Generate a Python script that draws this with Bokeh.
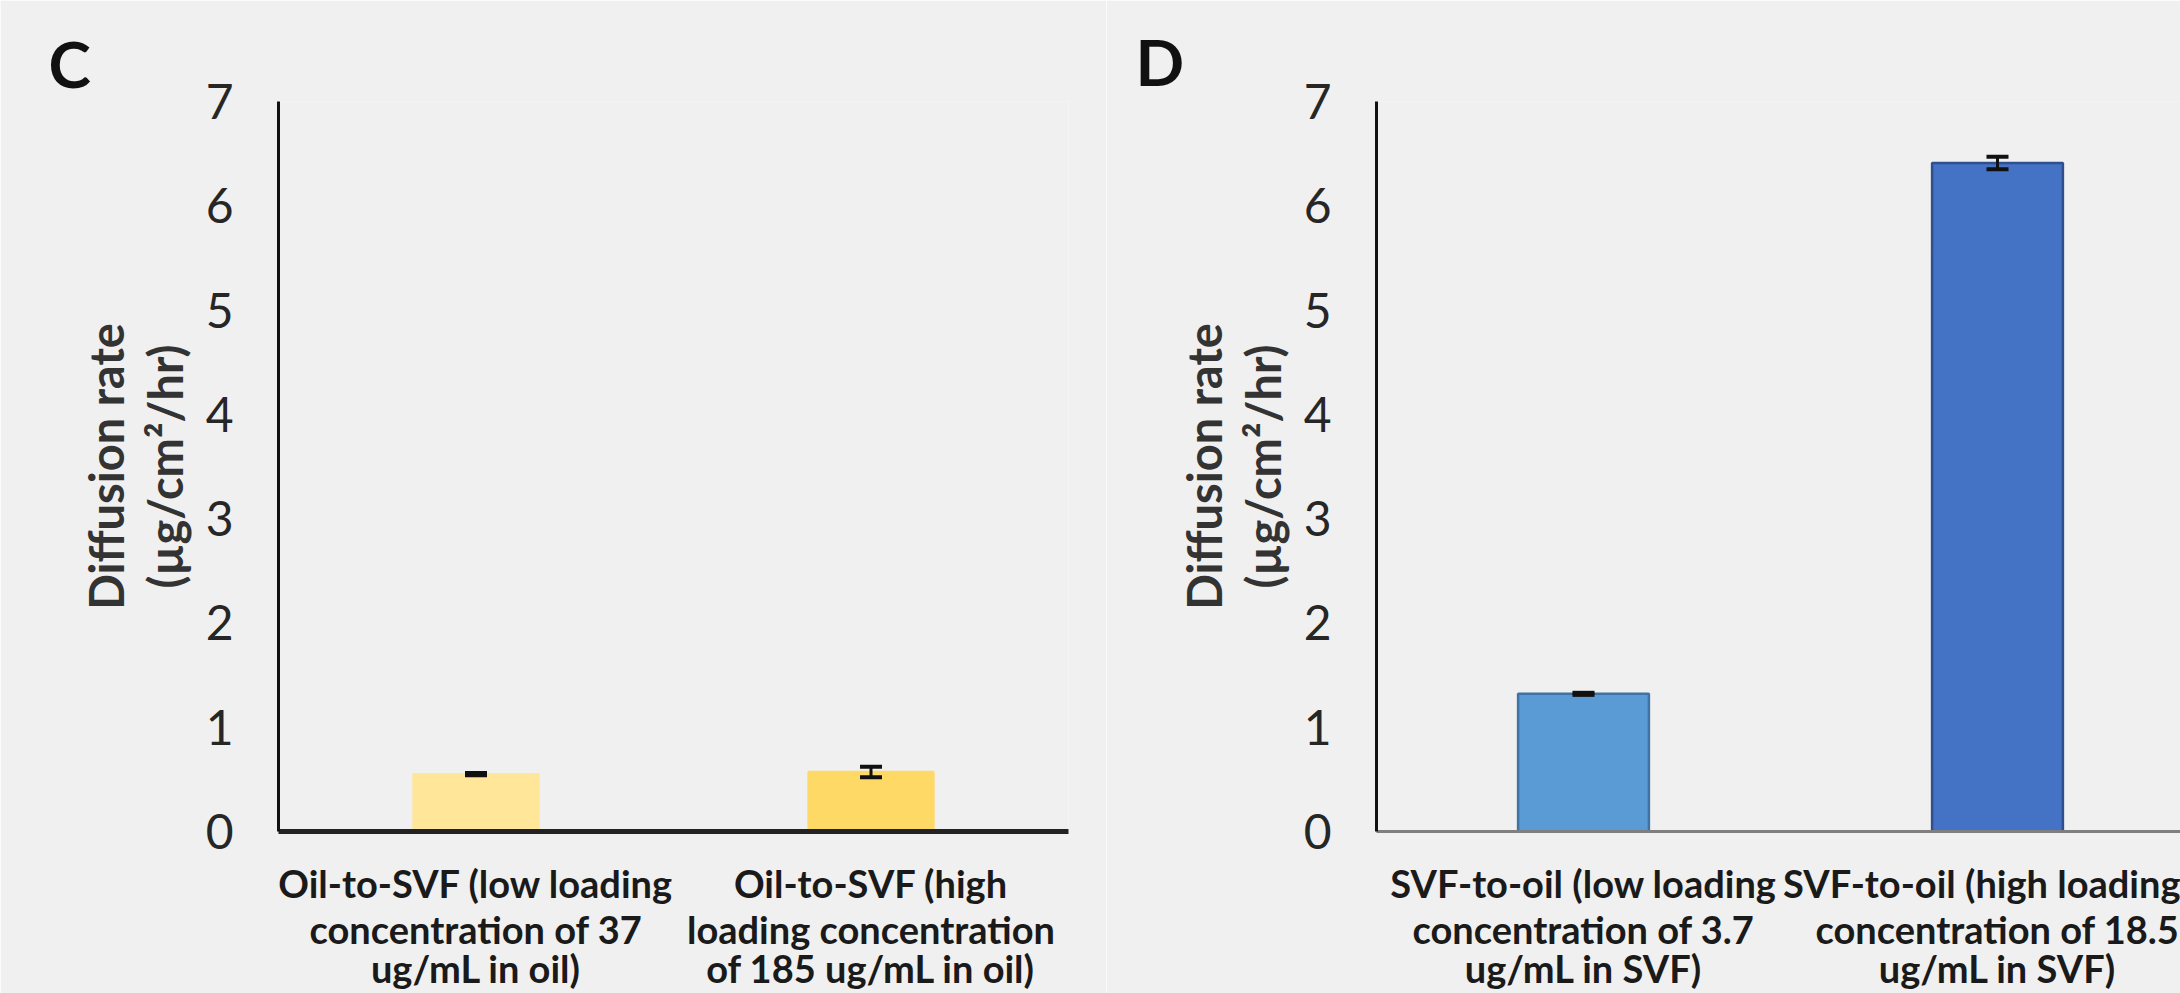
from bokeh.plotting import figure
from bokeh.models import Range1d, ColumnDataSource, Whisker, TeeHead, LinearAxis, FixedTicker
from bokeh.layouts import row
from bokeh.embed import file_html
from bokeh.resources import INLINE

# ---------------- data ----------------
c_labels = [
    "Oil-to-SVF (low loading\nconcentration of 37\nug/mL in oil)",
    "Oil-to-SVF (high\nloading concentration\nof 185 ug/mL in oil)",
]
c_values = [0.55, 0.57]
c_errors = [0.01, 0.05]

d_labels = [
    "SVF-to-oil (low loading\nconcentration of 3.7\nug/mL in SVF)",
    "SVF-to-oil (high loading\nconcentration of 18.5\nug/mL in SVF)",
]
d_values = [1.32, 6.41]
d_errors = [0.01, 0.06]

y_ticks = [0, 1, 2, 3, 4, 5, 6, 7]
y_title_line1 = "Diffusion rate"
y_title_line2 = "(\u00b5g/cm\u00b2/hr)"

# ---------------- styling ----------------
BG = "#f0f0f0"
TOTAL_W = 2180
H = 993
FRAME_TOP = 101
FRAME_BOTTOM = 831
CAT_STANDOFFS = [28, -3, -10]


def make_panel(letter, labels, values, errors, fills, lines, width,
               border_left, border_right, x_end, xaxis_color, xaxis_width,
               letter_offset, letter_standoff):
    xs = [i + 0.5 for i in range(len(labels))]
    p = figure(width=width, height=H, output_backend="svg", toolbar_location=None,
               x_range=Range1d(0, x_end), y_range=Range1d(0, y_ticks[-1]),
               min_border_left=border_left, min_border_right=border_right,
               min_border_top=FRAME_TOP, min_border_bottom=H - FRAME_BOTTOM)
    p.background_fill_color = BG
    p.border_fill_color = BG
    p.outline_line_color = None
    p.grid.visible = False

    # panel letter as title
    p.title.text = letter
    p.title.align = "left"
    p.title.offset = letter_offset
    p.title.standoff = letter_standoff
    p.title.vertical_align = "bottom"
    p.title.text_font = "Lato"
    p.title.text_font_style = "bold"
    p.title.text_font_size = "64px"
    p.title.text_color = "#111111"

    src = ColumnDataSource(dict(
        x=xs, top=values, fill=fills, line=lines,
        upper=[v + e for v, e in zip(values, errors)],
        lower=[v - e for v, e in zip(values, errors)],
    ))
    p.vbar(x="x", top="top", bottom=0, width=0.316, source=src,
           fill_color="fill", line_color="line", line_width=2.5)

    w = Whisker(base="x", upper="upper", lower="lower", source=src,
                dimension="height", line_color="#111111", line_width=3,
                upper_head=TeeHead(size=22, line_width=4, line_color="#111111"),
                lower_head=TeeHead(size=22, line_width=4, line_color="#111111"),
                level="overlay")
    p.add_layout(w)

    # y axis (ticks + second line of the title)
    ya = p.yaxis[0]
    ya.ticker = y_ticks
    ya.major_tick_out = 0
    ya.major_tick_in = 0
    ya.minor_tick_out = 0
    ya.minor_tick_in = 0
    ya.axis_line_color = "#111111"
    ya.axis_line_width = 3
    ya.major_label_text_font = "Lato"
    ya.major_label_text_font_size = "48px"
    ya.major_label_text_color = "#262626"
    ya.major_label_standoff = 45
    ya.axis_label = y_title_line2
    ya.axis_label_text_font = "Lato"
    ya.axis_label_text_font_style = "bold"
    ya.axis_label_text_font_size = "47px"
    ya.axis_label_text_color = "#333333"
    ya.axis_label_standoff = 10

    # outer axis carrying the first line of the title
    ya2 = LinearAxis(ticker=FixedTicker(ticks=[]), axis_line_color=None,
                     major_tick_out=0, major_tick_in=0, minor_tick_out=0,
                     minor_tick_in=0, major_label_text_font_size="0px",
                     major_label_standoff=0,
                     axis_label=y_title_line1, axis_label_text_font="Lato",
                     axis_label_text_font_style="bold",
                     axis_label_text_font_size="47px",
                     axis_label_text_color="#333333", axis_label_standoff=0)
    p.add_layout(ya2, "left")

    # x axes: one per text line of the category labels
    split = [lab.split("\n") for lab in labels]
    n_lines = max(len(s) for s in split)
    for li in range(n_lines):
        overrides = {x: (s[li] if li < len(s) else "") for x, s in zip(xs, split)}
        if li == 0:
            xa = p.xaxis[0]
            xa.axis_line_color = xaxis_color
            xa.axis_line_width = xaxis_width
        else:
            xa = LinearAxis()
            xa.axis_line_color = None
            p.add_layout(xa, "below")
        xa.ticker = FixedTicker(ticks=xs)
        xa.major_label_overrides = overrides
        xa.major_tick_out = 0
        xa.major_tick_in = 0
        xa.minor_tick_out = 0
        xa.minor_tick_in = 0
        xa.major_label_standoff = CAT_STANDOFFS[li]
        xa.major_label_text_font = "Lato"
        xa.major_label_text_font_style = "bold"
        xa.major_label_text_font_size = "38px"
        xa.major_label_text_color = "#1a1a1a"
    return p


W1 = 1106
p1 = make_panel("C", c_labels, c_values, c_errors,
                ["#FFE699", "#FFD966"], ["#FFE699", "#FFD966"],
                W1, 278, W1 - 1068, 2.0, "#222222", 5, -230, 0)
p2 = make_panel("D", d_labels, d_values, d_errors,
                ["#5B9BD5", "#4472C4"], ["#3F72A6", "#2F4F8F"],
                TOTAL_W - W1, 1376 - W1, 0, (TOTAL_W - 1376) / 414, "#7f7f7f", 3,
                -241, 3)

layout = row(p1, p2)
html = file_html(layout, INLINE)
html = html.replace("<body>", '<body style="background:%s">' % BG, 1)
open("out.html", "w").write(html)
